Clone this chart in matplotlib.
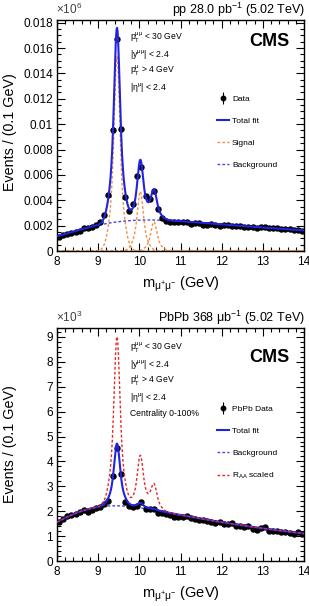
import math
import numpy as np
import matplotlib
matplotlib.use("Agg")
import matplotlib.pyplot as plt
from matplotlib.ticker import MultipleLocator, FuncFormatter
from matplotlib.lines import Line2D
from matplotlib.legend_handler import HandlerTuple

plt.rcParams['font.family'] = ['Liberation Sans', 'DejaVu Sans']
plt.rcParams['mathtext.fontset'] = 'custom'
plt.rcParams['mathtext.rm'] = 'Liberation Sans'
plt.rcParams['mathtext.it'] = 'Liberation Sans:italic'
plt.rcParams['mathtext.bf'] = 'Liberation Sans:bold'

# --- datos: centros de bin (0.1 GeV) y cuentas ---
mass = np.round(np.arange(8.05, 14.0, 0.1), 2)

pp_counts = [1080, 1260, 1340, 1420, 1520, 1600, 1780, 1780, 1920, 2050,
             2260, 2830, 4410, 9500, 16700, 9600, 4260, 3150, 3670, 5900,
             6600, 4360, 4090, 4750, 3350, 2570, 2390, 2310, 2260, 2260,
             2300, 2280, 2120, 2180, 2220, 2080, 2080, 2130, 2050, 2000,
             2050, 2080, 1980, 1980, 1980, 1930, 1900, 1870, 1830, 1900,
             1860, 1820, 1800, 1800, 1730, 1720, 1700, 1660, 1640, 1600]

pbpb_counts = [1550, 1690, 1810, 1830, 1880, 1960, 2030, 1970, 2050, 2130,
               2160, 2290, 2400, 3430, 4520, 3480, 2360, 2210, 2170, 2210,
               2360, 2100, 2070, 2070, 1940, 1930, 1890, 1840, 1760, 1770,
               1780, 1820, 1740, 1700, 1660, 1640, 1600, 1560, 1530, 1580,
               1490, 1490, 1520, 1420, 1390, 1370, 1390, 1290, 1240, 1310,
               1360, 1210, 1210, 1220, 1180, 1150, 1120, 1070, 1150, 1100]

# --- parametros del ajuste (leidos a ojo) ---
peak_mass = [9.457, 10.023, 10.355]
pp_peak_amp = [15300, 4700, 2300]
pbpb_peak_amp = [2500, 200, 50]
core_sigma, tail_sigma, core_frac = 0.06, 0.14, 0.6
raa_norm = 0.444

pp_bkg = dict(norm=2393, slope=7.8, turn_on=8.52, width=1.67)
pbpb_bkg = dict(norm=1854, slope=5.77, turn_on=8.0, width=1.5)

erf = np.vectorize(math.erf)


def background(m, norm, slope, turn_on, width):
    return norm * np.exp(-(m - 11.0) / slope) * 0.5 * (1 + erf((m - turn_on) / width))


def peak(m, mu, amp):
    return amp * (core_frac * np.exp(-(m - mu) ** 2 / (2 * core_sigma ** 2))
                  + (1 - core_frac) * np.exp(-(m - mu) ** 2 / (2 * tail_sigma ** 2)))


m = np.linspace(8, 14, 1500)

BLUE = '#2323dc'
BKG_BLUE = '#4646e6'
ORANGE = '#f0914a'
RED = '#e02a2a'
DOTS = (0, (2, 1.5))

fig = plt.figure(figsize=(3.09, 6.06), dpi=100)
ax1 = fig.add_axes([57 / 309, 1 - 251 / 606, 247 / 309, (251 - 19.5) / 606])
ax2 = fig.add_axes([57 / 309, 1 - 561 / 606, 247 / 309, (561 - 328) / 606])


def estilo(ax, ymaj, ymin, fmt):
    ax.set_xlim(8, 14)
    ax.xaxis.set_major_locator(MultipleLocator(1))
    ax.xaxis.set_minor_locator(MultipleLocator(0.2))
    ax.yaxis.set_major_locator(MultipleLocator(ymaj))
    ax.yaxis.set_minor_locator(MultipleLocator(ymin))
    ax.yaxis.set_major_formatter(FuncFormatter(fmt))
    ax.tick_params(which='both', direction='in', top=True, right=True,
                   labelsize=8.5, width=0.8)
    ax.tick_params(which='major', length=5.5)
    ax.tick_params(which='minor', length=2.8)
    ax.tick_params(axis='x', pad=3.5)
    ax.tick_params(axis='y', pad=3)
    for s in ax.spines.values():
        s.set_linewidth(1.0)
    ax.set_xlabel(r'$\mathrm{m_{μ^{+}μ^{-}}}$ (GeV)', fontsize=10.5, labelpad=5)


def data_handle():
    return (Line2D([], [], color='black', marker='|', ms=9, mew=0.8, ls='none'),
            Line2D([], [], color='black', marker='o', ms=3.2, ls='none'))


leg_kw = dict(loc='upper left', bbox_transform=fig.transFigure, frameon=False,
              fontsize=6, labelspacing=1.7, handlelength=1.4, handletextpad=0.4,
              borderpad=0, borderaxespad=0, handler_map={tuple: HandlerTuple(ndivide=1)})

# --- panel pp ---
bkg1 = background(m, **pp_bkg)
sig1 = [peak(m, mu, a) for mu, a in zip(peak_mass, pp_peak_amp)]
tot1 = bkg1 + sum(sig1)
pp = np.array(pp_counts, dtype=float)

for s in sig1:
    ax1.plot(m, s / 1e6, color=ORANGE, lw=1.0, ls=DOTS, zorder=2)
ax1.plot(m, bkg1 / 1e6, color=BKG_BLUE, lw=1.0, ls=DOTS, zorder=2)
ax1.errorbar(mass, pp / 1e6, yerr=np.sqrt(pp) / 1e6, fmt='o', color='black',
             ms=3.6, elinewidth=0.8, capsize=0, zorder=3)
ax1.plot(m, tot1 / 1e6, color=BLUE, lw=1.5, zorder=4)
ax1.set_ylim(0, 0.01825)
estilo(ax1, 0.002, 0.0005, lambda v, p: '0' if abs(v) < 1e-9 else '{:g}'.format(round(v, 4)))

leg1 = [data_handle(),
        Line2D([], [], color=BLUE, lw=1.5),
        Line2D([], [], color=ORANGE, lw=1.0, ls=DOTS),
        Line2D([], [], color=BKG_BLUE, lw=1.0, ls=DOTS)]
ax1.legend(leg1, ['Data', 'Total fit', 'Signal', 'Background'],
           bbox_to_anchor=(217 / 309, 1 - 95 / 606), **leg_kw)

# --- panel PbPb ---
bkg2 = background(m, **pbpb_bkg)
sig2 = sum(peak(m, mu, a) for mu, a in zip(peak_mass, pbpb_peak_amp))
tot2 = bkg2 + sig2
raa = bkg2 + raa_norm * sum(sig1)
pb = np.array(pbpb_counts, dtype=float)

ax2.plot(m, bkg2 / 1e3, color=BKG_BLUE, lw=1.0, ls=DOTS, zorder=2)
ax2.errorbar(mass, pb / 1e3, yerr=np.sqrt(pb) / 1e3, fmt='o', color='black',
             ms=3.6, elinewidth=0.8, capsize=0, zorder=3)
ax2.plot(m, tot2 / 1e3, color=BLUE, lw=1.5, zorder=4)
ax2.plot(m, raa / 1e3, color=RED, lw=1.0, ls=DOTS, zorder=5)
ax2.set_ylim(0, 9.36)
estilo(ax2, 1, 0.2, lambda v, p: '{:g}'.format(round(v, 3)))

leg2 = [data_handle(),
        Line2D([], [], color=BLUE, lw=1.5),
        Line2D([], [], color=BKG_BLUE, lw=1.0, ls=DOTS),
        Line2D([], [], color=RED, lw=1.0, ls=DOTS)]
ax2.legend(leg2, ['PbPb Data', 'Total fit', 'Background', r'R$_{\mathrm{AA}}$ scaled'],
           bbox_to_anchor=(217 / 309, 1 - 405 / 606), **leg_kw)

# --- textos ---
def ftxt(x, y, s, **kw):
    fig.text(x / 309, 1 - y / 606, s, **kw)


cortes = [r'$\mathrm{p_{T}^{μμ}}$ < 30 GeV', r'$\mathrm{|y^{μμ}|}$ < 2.4',
          r'$\mathrm{p_{T}^{μ}}$ > 4 GeV', r'$\mathrm{|η^{μ}|}$ < 2.4']
for i, c in enumerate(cortes):
    ftxt(130, 38 + 16.4 * i, c, fontsize=6.2, va='center', ha='left')
    ftxt(130, 348 + 16.4 * i, c, fontsize=6.2, va='center', ha='left')
ftxt(130, 413, 'Centrality 0-100%', fontsize=6.2, va='center', ha='left')

ftxt(290, 41, 'CMS', fontsize=13, fontweight='bold', ha='right', va='center')
ftxt(290, 357, 'CMS', fontsize=13, fontweight='bold', ha='right', va='center')

ftxt(305, 9.5, r'pp 28.0 pb$^{-1}$ (5.02 TeV)', fontsize=9, ha='right', va='center')
ftxt(305, 318, r'PbPb 368 $\mathrm{μ}$b$^{-1}$ (5.02 TeV)', fontsize=9, ha='right', va='center')
ftxt(56, 9, r'×10$^{6}$', fontsize=8.5, ha='left', va='center', color='#404040')
ftxt(56, 317, r'×10$^{3}$', fontsize=8.5, ha='left', va='center', color='#404040')

ftxt(10, 132, 'Events / (0.1 GeV)', fontsize=10.3, rotation=90, ha='center', va='center')
ftxt(10, 444, 'Events / (0.1 GeV)', fontsize=10.3, rotation=90, ha='center', va='center')

fig.savefig('out.png', dpi=100)
